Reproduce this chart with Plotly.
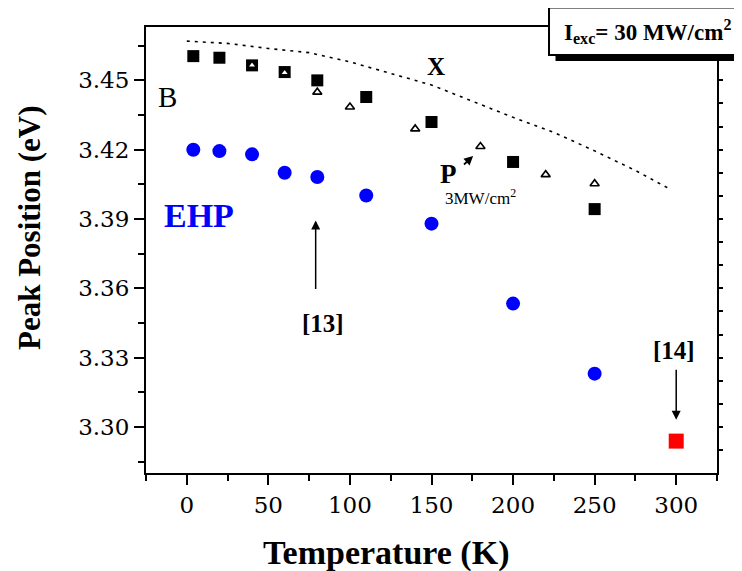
import plotly.graph_objects as go

# ---- data ----
temp_B = [4, 20, 40, 60, 80, 110, 150, 200, 250]
peak_B = [3.4605, 3.4598, 3.4565, 3.4536, 3.4500, 3.4428, 3.4320, 3.4147, 3.3943]

temp_P = [40, 60, 80, 100, 140, 180, 220, 250]
peak_P = [3.4565, 3.4533, 3.4449, 3.4385, 3.4290, 3.4214, 3.4092, 3.4053]

temp_EHP = [4, 20, 40, 60, 80, 110, 150, 200, 250]
peak_EHP = [3.4200, 3.4194, 3.4180, 3.4100, 3.4082, 3.4002, 3.3880, 3.3534, 3.3231]

temp_X = [0, 25, 50, 75, 100, 125, 150, 175, 200, 225, 250, 275, 295]
peak_X = [3.4670, 3.4660, 3.4638, 3.4620, 3.4580, 3.4530, 3.4480, 3.4410, 3.4340,
          3.4275, 3.4195, 3.4110, 3.4034]

temp_ref14 = [300]
peak_ref14 = [3.2939]

x_range = [-25, 325]
y_range = [3.2801, 3.4731]

SERIF = "Liberation Serif, Times New Roman, serif"
TICKFONT = "DejaVu Serif, serif"

# page body has an 8px margin: the figure is sized so it ends at the window edge
OFF = 8
W, H = 742 - OFF, 571 - OFF
ML, MR, MT, MB = 146 - OFF, 25, 27 - OFF, 98
PW, PH = W - ML - MR, H - MT - MB


def fx(px):  # window pixel -> paper fraction
    return (px - OFF - ML) / PW


def fy(py):
    return (H - MB - (py - OFF)) / PH


fig = go.Figure()

# dashed X line
fig.add_trace(go.Scatter(x=temp_X, y=peak_X, mode="lines",
                         line=dict(color="black", width=1.6, dash="3px,5px"),
                         showlegend=False, hoverinfo="skip"))
# EHP circles
fig.add_trace(go.Scatter(x=temp_EHP, y=peak_EHP, mode="markers",
                         marker=dict(symbol="circle", size=14, color="#0000FF",
                                     line=dict(width=0)),
                         showlegend=False))
# B squares
fig.add_trace(go.Scatter(x=temp_B, y=peak_B, mode="markers",
                         marker=dict(symbol="square", size=12, color="black",
                                     line=dict(width=0)),
                         showlegend=False))
# P open triangles
fig.add_trace(go.Scatter(x=temp_P, y=peak_P, mode="markers",
                         marker=dict(symbol="triangle-up", size=8, color="white",
                                     line=dict(width=1.6, color="black")),
                         showlegend=False))
# [14] red square
fig.add_trace(go.Scatter(x=temp_ref14, y=peak_ref14, mode="markers",
                         marker=dict(symbol="square", size=15, color="#FF0000",
                                     line=dict(width=0)),
                         showlegend=False))
# dummy trace for right-hand axis
fig.add_trace(go.Scatter(x=[None], y=[None], yaxis="y2", showlegend=False,
                         hoverinfo="skip"))

axis_common = dict(showgrid=False, zeroline=False, showline=True, linecolor="black",
                   linewidth=2, ticks="outside", tickcolor="black", tickwidth=2,
                   ticklen=10, tickfont=dict(family=TICKFONT, size=23, color="black"))

fig.update_layout(
    width=W, height=H,
    margin=dict(l=ML, r=MR, t=MT, b=MB),
    paper_bgcolor="white", plot_bgcolor="white",
    xaxis=dict(range=x_range, tick0=0, dtick=50, mirror=True,
               minor=dict(dtick=25, tick0=0, ticks="outside", ticklen=6,
                          tickcolor="black", tickwidth=2),
               **axis_common),
    yaxis=dict(range=y_range, tick0=3.30, dtick=0.03, tickformat=".2f",
               minor=dict(dtick=0.015, tick0=3.30, ticks="outside", ticklen=6,
                          tickcolor="black", tickwidth=2),
               **axis_common),
    yaxis2=dict(range=y_range, overlaying="y", side="right", showgrid=False,
                zeroline=False, showline=True, linecolor="black", linewidth=2,
                ticks="outside", ticklen=4, tickwidth=1.5, tickcolor="black",
                tick0=3.30, dtick=0.01, showticklabels=False),
)

# box with shadow (top-right)
fig.add_shape(type="rect", xref="paper", yref="paper",
              x0=fx(555.5), x1=fx(750), y0=fy(61), y1=fy(13),
              fillcolor="black", line=dict(width=0), layer="above")
fig.add_shape(type="rect", xref="paper", yref="paper",
              x0=fx(549), x1=fx(741), y0=fy(55), y1=fy(7.5),
              fillcolor="white", line=dict(color="black", width=2), layer="above")

ann = []
ann.append(dict(xref="paper", yref="paper", x=fx(647), y=fy(31),
                text="<b>I<sub>exc</sub>= 30 MW/cm<sup>2</sup></b>", showarrow=False,
                font=dict(family=SERIF, size=23, color="black"),
                xanchor="center", yanchor="middle"))

# axis titles
ann.append(dict(xref="paper", yref="paper", x=fx(386), y=fy(553),
                text="<b>Temperature (K)</b>", showarrow=False,
                font=dict(family=SERIF, size=34, color="black"),
                xanchor="center", yanchor="middle"))
ann.append(dict(xref="paper", yref="paper", x=fx(29), y=fy(228),
                text="<b>Peak Position (eV)</b>", showarrow=False, textangle=-90,
                font=dict(family=SERIF, size=31, color="black"),
                xanchor="center", yanchor="middle"))

# in-plot labels
ann.append(dict(x=-11.8, y=3.4428, text="B", showarrow=False,
                font=dict(family=SERIF, size=29, color="black")))
ann.append(dict(x=7.4, y=3.3916, text="<b>EHP</b>", showarrow=False,
                font=dict(family=SERIF, size=34, color="#0000FF")))
ann.append(dict(x=153, y=3.4558, text="<b>X</b>", showarrow=False,
                font=dict(family=SERIF, size=25, color="black")))
ann.append(dict(x=160.5, y=3.4097, text="<b>P</b>", showarrow=False,
                font=dict(family=SERIF, size=27, color="black")))
ann.append(dict(x=180, y=3.3995, text="3MW/cm<sup>2</sup>", showarrow=False,
                font=dict(family=SERIF, size=17, color="black")))
ann.append(dict(x=83.5, y=3.345, text="<b>[13]</b>", showarrow=False,
                font=dict(family=SERIF, size=25, color="black")))
ann.append(dict(x=298.6, y=3.3331, text="<b>[14]</b>", showarrow=False,
                font=dict(family=SERIF, size=25, color="black")))

# arrows
ann.append(dict(x=79, y=3.3894, ax=79, ay=3.3591, axref="x", ayref="y",
                text="", showarrow=True, arrowhead=2, arrowsize=1.2,
                arrowwidth=1.5, arrowcolor="black"))
ann.append(dict(x=300, y=3.3031, ax=300, ay=3.3254, axref="x", ayref="y",
                text="", showarrow=True, arrowhead=2, arrowsize=1.2,
                arrowwidth=1.5, arrowcolor="black"))
ann.append(dict(x=175.5, y=3.4173, ax=169.0, ay=3.4130, axref="x", ayref="y",
                text="", showarrow=True, arrowhead=2, arrowsize=1.0,
                arrowwidth=1.8, arrowcolor="black"))

fig.update_layout(annotations=ann)

fig.write_html("out.html")
